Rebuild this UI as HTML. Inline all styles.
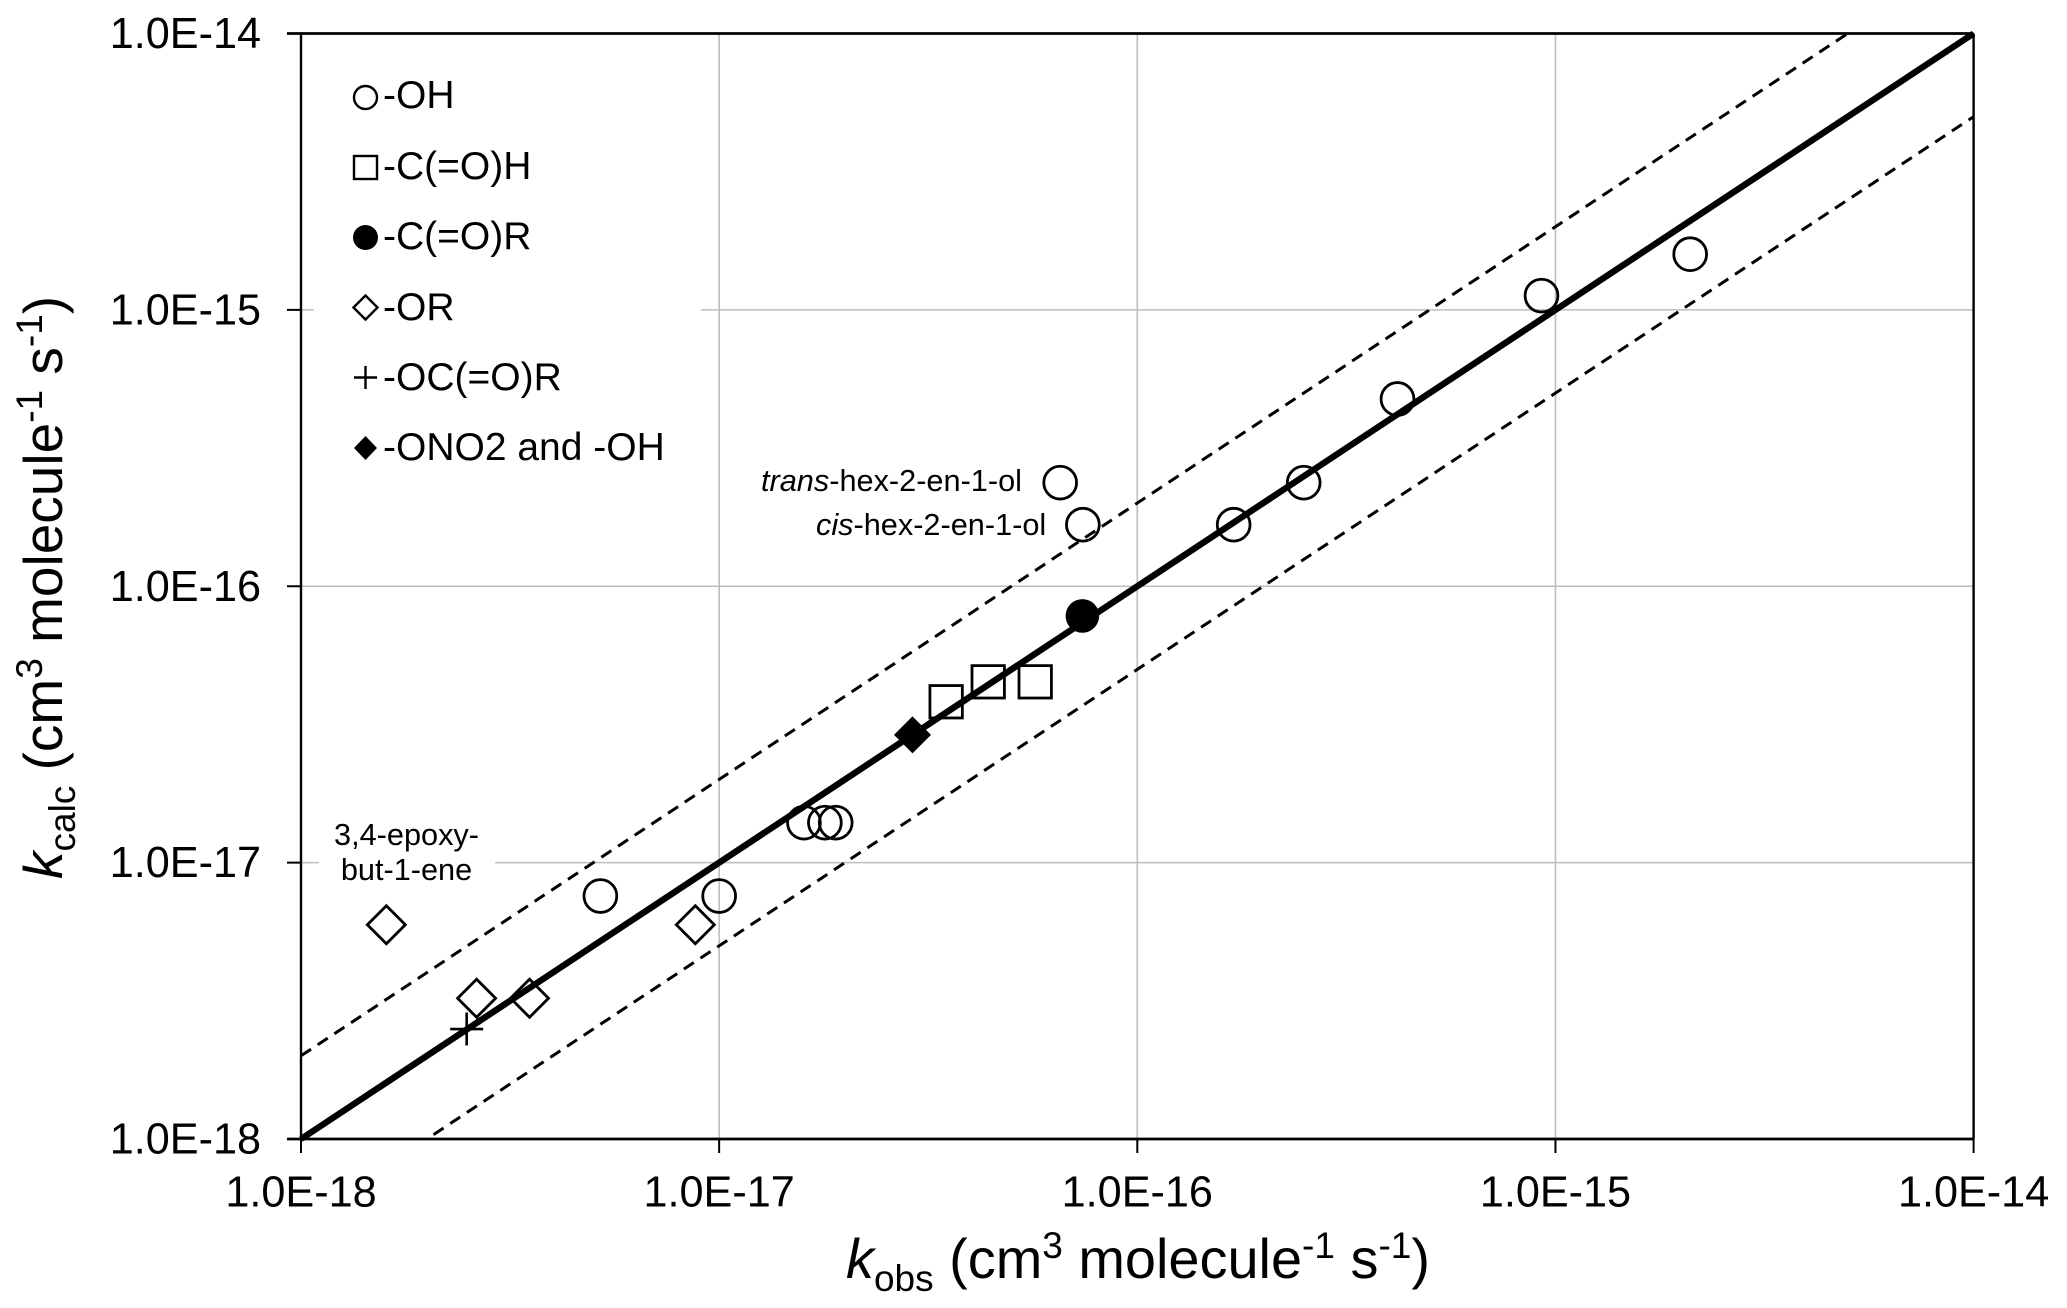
<!DOCTYPE html>
<html lang="en">
<head>
<meta charset="utf-8">
<title>kcalc vs kobs</title>
<style>
html,body{margin:0;padding:0;background:#fff;}
svg{display:block;}
text{font-family:"Liberation Sans",Arial,sans-serif;fill:#000;}
.tick{font-size:43.2px;}
.leg{font-size:39px;}
.ann{font-size:30.7px;}
.title-x{font-size:55.9px;}
.title-y{font-size:55px;}
</style>
</head>
<body>
<svg id="chart" xmlns="http://www.w3.org/2000/svg" width="2067" height="1308" viewBox="0 0 2067 1308">
  <rect x="0" y="0" width="2067" height="1308" fill="#fff"/>
  <g id="grid"></g>
  <rect x="314" y="45" width="387" height="440" fill="#fff"/>
  <rect x="319" y="812" width="176" height="78" fill="#fff"/>
  <g id="marks"></g>
  <g id="lines"></g>
  <g id="axes"></g>
  <g id="ticklabels"></g>

  <g>
    <circle cx="365.5" cy="97.5" r="11.5" fill="none" stroke="#000" stroke-width="2.4"/>
    <text class="leg" x="383" y="108">-OH</text>
    <rect x="354" y="156" width="23" height="23" fill="none" stroke="#000" stroke-width="2.4"/>
    <text class="leg" x="383" y="179">-C(=O)H</text>
    <circle cx="365.5" cy="237.5" r="12.5" fill="#000"/>
    <text class="leg" x="383" y="249">-C(=O)R</text>
    <path d="M365.5 295.5 L377.5 307.5 L365.5 319.5 L353.5 307.5 Z" fill="none" stroke="#000" stroke-width="2.4"/>
    <text class="leg" x="383" y="320">-OR</text>
    <path d="M354 377.5 H377 M365.5 366 V389" fill="none" stroke="#000" stroke-width="2.4"/>
    <text class="leg" x="383" y="390">-OC(=O)R</text>
    <path d="M365.5 436 L377 448 L365.5 460 L354 448 Z" fill="#000"/>
    <text class="leg" x="383" y="460">-ONO2 and -OH</text>
  </g>

  <text class="ann" x="761" y="491"><tspan font-style="italic">trans</tspan>-hex-2-en-1-ol</text>
  <text class="ann" x="816" y="535"><tspan font-style="italic">cis</tspan>-hex-2-en-1-ol</text>
  <text class="ann" x="406.5" y="845" text-anchor="middle">3,4-epoxy-</text>
  <text class="ann" x="406.5" y="880" text-anchor="middle">but-1-ene</text>

  <text class="title-x" x="846" y="1278"><tspan font-style="italic">k</tspan><tspan font-size="37" dy="13">obs</tspan><tspan dy="-13"> (cm</tspan><tspan font-size="37" dy="-20">3</tspan><tspan dy="20"> molecule</tspan><tspan font-size="37" dy="-20">-1</tspan><tspan dy="20"> s</tspan><tspan font-size="37" dy="-20">-1</tspan><tspan dy="20">)</tspan></text>
  <text class="title-y" transform="translate(62 879) rotate(-90)" x="0" y="0"><tspan font-style="italic">k</tspan><tspan font-size="37" dy="13">calc</tspan><tspan dy="-13"> (cm</tspan><tspan font-size="37" dy="-20">3</tspan><tspan dy="20"> molecule</tspan><tspan font-size="37" dy="-20">-1</tspan><tspan dy="20"> s</tspan><tspan font-size="37" dy="-20">-1</tspan><tspan dy="20">)</tspan></text>
</svg>
<script>
const tickValues = [1e-18, 1e-17, 1e-16, 1e-15, 1e-14];
const tickLabels = ["1.0E-18", "1.0E-17", "1.0E-16", "1.0E-15", "1.0E-14"];

const ohObs  = [5.2e-18, 1.0e-17, 1.595e-17, 1.79e-17, 1.90e-17, 6.54e-17, 7.41e-17, 1.70e-16, 2.50e-16, 4.19e-16, 9.26e-16, 2.10e-15];
const ohCalc = [7.57e-18, 7.57e-18, 1.395e-17, 1.395e-17, 1.395e-17, 2.37e-16, 1.67e-16, 1.67e-16, 2.37e-16, 4.76e-16, 1.126e-15, 1.59e-15];
const choObs  = [3.49e-17, 4.40e-17, 5.70e-17];
const choCalc = [3.82e-17, 4.51e-17, 4.51e-17];
const corObs  = [7.39e-17];
const corCalc = [7.81e-17];
const orObs  = [1.60e-18, 2.63e-18, 3.52e-18, 8.77e-18];
const orCalc = [5.96e-18, 3.23e-18, 3.23e-18, 5.96e-18];
const ocorObs  = [2.49e-18];
const ocorCalc = [2.50e-18];
const ono2Obs  = [2.90e-17];
const ono2Calc = [2.90e-17];

const parityObs  = [1e-18, 1e-14];
const parityCalc = [1e-18, 1e-14];
const upperObs  = [1e-18, 5e-15];
const upperCalc = [2e-18, 1e-14];
const lowerObs  = [2e-18, 1e-14];
const lowerCalc = [1e-18, 5e-15];

const plotLeft = 301, plotRight = 1973.6, plotTop = 33.5, plotBottom = 1139;
const logMin = -18, logMax = -14;
const NS = "http://www.w3.org/2000/svg";

function xScale(v) {
  return plotLeft + (Math.log10(v) - logMin) / (logMax - logMin) * (plotRight - plotLeft);
}
function yScale(v) {
  return plotBottom - (Math.log10(v) - logMin) / (logMax - logMin) * (plotBottom - plotTop);
}
function make(tag, parent, props) {
  const el = document.createElementNS(NS, tag);
  for (const k in props) el.setAttribute(k, props[k]);
  parent.appendChild(el);
  return el;
}

const grid = document.getElementById("grid");
const axes = document.getElementById("axes");
const tickLabelGroup = document.getElementById("ticklabels");
const marks = document.getElementById("marks");
const lines = document.getElementById("lines");

tickValues.forEach(function (v, i) {
  const gx = make("line", grid, {x1: xScale(v), x2: xScale(v), y1: plotTop, y2: plotBottom, stroke: "#bdbdbd", "stroke-width": 1.6});
  
  
  const gy = make("line", grid, {x1: plotLeft, x2: plotRight, y1: yScale(v), y2: yScale(v), stroke: "#bdbdbd", "stroke-width": 1.6});
  
  

  const tx = make("line", axes, {x1: xScale(v), x2: xScale(v), y1: plotBottom, y2: plotBottom + 14, stroke: "#000", "stroke-width": 2});
  
  
  const ty = make("line", axes, {x1: plotLeft - 14, x2: plotLeft, y1: yScale(v), y2: yScale(v), stroke: "#000", "stroke-width": 2});
  
  

  const lx = make("text", tickLabelGroup, {x: xScale(v), y: plotBottom + 67.5, "text-anchor": "middle", "class": "tick"});
  lx.textContent = tickLabels[i];
  
  
  const ly = make("text", tickLabelGroup, {x: 261, y: yScale(v) + 14.5, "text-anchor": "end", "class": "tick"});
  ly.textContent = tickLabels[i];
  
  
});

const axisLeft = make("line", axes, {x1: plotLeft, x2: plotLeft, y1: plotTop, y2: plotBottom, stroke: "#000", "stroke-width": 2.4});


const axisRight = make("line", axes, {x1: plotRight, x2: plotRight, y1: plotTop, y2: plotBottom, stroke: "#000", "stroke-width": 2.4});


const axisTop = make("line", axes, {x1: plotLeft - 14, x2: plotRight, y1: plotTop, y2: plotTop, stroke: "#000", "stroke-width": 2.8});


const axisBottom = make("line", axes, {x1: plotLeft - 14, x2: plotRight, y1: plotBottom, y2: plotBottom, stroke: "#000", "stroke-width": 2.8});



const upperLine = make("line", lines, {x1: xScale(upperObs[0]), y1: yScale(upperCalc[0]), x2: xScale(upperObs[1]), y2: yScale(upperCalc[1]), stroke: "#000", "stroke-width": 3, "stroke-dasharray": "12 8"});


const lowerLine = make("line", lines, {x1: xScale(lowerObs[0]), y1: yScale(lowerCalc[0]), x2: xScale(lowerObs[1]), y2: yScale(lowerCalc[1]), stroke: "#000", "stroke-width": 3, "stroke-dasharray": "12 8", "stroke-dashoffset": 12});


const parityLine = make("line", lines, {x1: xScale(parityObs[0]), y1: yScale(parityCalc[0]), x2: xScale(parityObs[1]), y2: yScale(parityCalc[1]), stroke: "#000", "stroke-width": 6.4});



ohObs.forEach(function (v, i) {
  const m = make("circle", marks, {cx: xScale(v), cy: yScale(ohCalc[i]), r: 16.4, fill: "none", stroke: "#000", "stroke-width": 2.8});
  
  
});
choObs.forEach(function (v, i) {
  const cx = xScale(v), cy = yScale(choCalc[i]);
  const m = make("rect", marks, {x: cx - 16.2, y: cy - 16.2, width: 32.4, height: 32.4, fill: "none", stroke: "#000", "stroke-width": 2.8});
  
  
});
corObs.forEach(function (v, i) {
  const m = make("circle", marks, {cx: xScale(v), cy: yScale(corCalc[i]), r: 16.8, fill: "#000"});
  
  
});
orObs.forEach(function (v, i) {
  const cx = xScale(v), cy = yScale(orCalc[i]), h = 19;
  const m = make("path", marks, {d: "M" + cx + " " + (cy - h) + " L" + (cx + h) + " " + cy + " L" + cx + " " + (cy + h) + " L" + (cx - h) + " " + cy + " Z", fill: "none", stroke: "#000", "stroke-width": 2.8});
  
  
});
ocorObs.forEach(function (v, i) {
  const cx = xScale(v), cy = yScale(ocorCalc[i]), h = 16.5;
  const m = make("path", marks, {d: "M" + (cx - h) + " " + cy + " H" + (cx + h) + " M" + cx + " " + (cy - h) + " V" + (cy + h), fill: "none", stroke: "#000", "stroke-width": 2.6});
  
  
});
ono2Obs.forEach(function (v, i) {
  const cx = xScale(v), cy = yScale(ono2Calc[i]), h = 18.5;
  const m = make("path", marks, {d: "M" + cx + " " + (cy - h) + " L" + (cx + h) + " " + cy + " L" + cx + " " + (cy + h) + " L" + (cx - h) + " " + cy + " Z", fill: "#000"});
  
  
});
</script>
</body>
</html>
